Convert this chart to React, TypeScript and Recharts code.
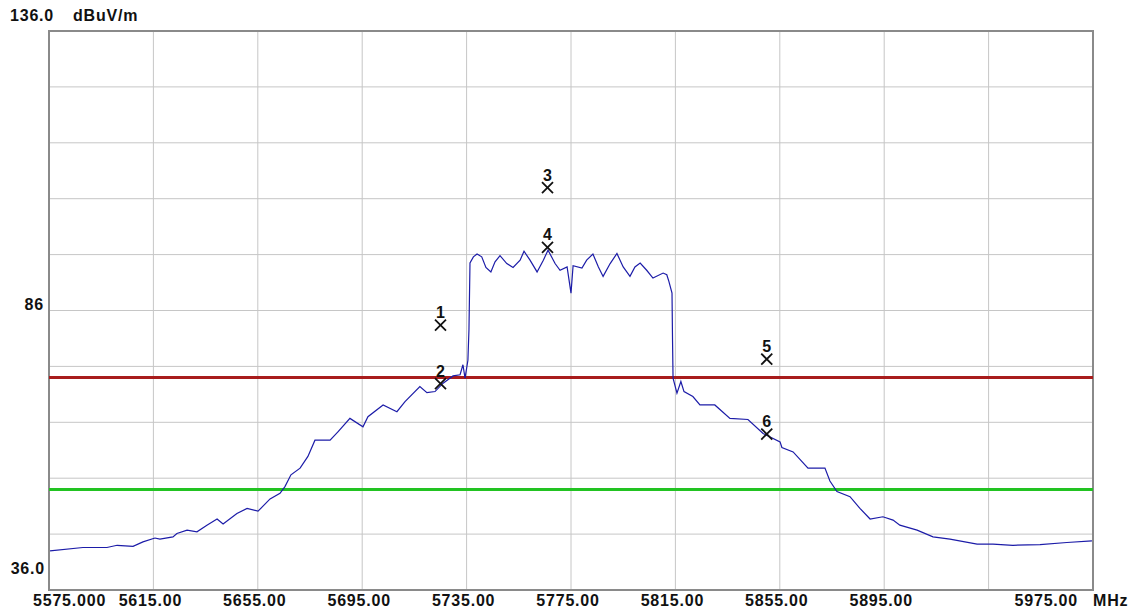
import React from "react";
import {
  ComposedChart,
  Line,
  Scatter,
  XAxis,
  YAxis,
  CartesianGrid,
  ReferenceLine,
  ReferenceArea,
} from "recharts";

// spectrum trace, MHz / dBuV/m
const traceFreq = [
  5575.4, 5588.0, 5597.2, 5601.1, 5607.2, 5611.0, 5615.6, 5617.5, 5622.5, 5624.0,
  5627.9, 5631.7, 5635.5, 5639.4, 5641.7, 5647.0, 5650.9, 5655.1, 5659.7, 5663.5,
  5665.4, 5667.7, 5671.2, 5674.2, 5676.9, 5682.7, 5685.7, 5690.3, 5695.3, 5697.2,
  5703.0, 5708.3, 5711.4, 5717.1, 5719.8, 5722.9, 5726.0, 5729.8, 5732.5, 5733.6,
  5734.4, 5735.5, 5735.9, 5736.3, 5737.6, 5739.0, 5740.8, 5742.4, 5744.3, 5745.9,
  5747.8, 5750.4, 5752.8, 5755.5, 5757.0, 5759.3, 5762.0, 5764.4, 5766.2, 5768.9,
  5770.8, 5773.5, 5775.0, 5775.8, 5779.2, 5781.0, 5783.4, 5785.5, 5787.3, 5790.0,
  5792.6, 5795.0, 5797.6, 5799.5, 5801.5, 5804.0, 5806.4, 5810.3, 5811.7, 5812.5,
  5813.7, 5813.9, 5814.1, 5815.6, 5817.1, 5818.3, 5821.7, 5824.4, 5830.1, 5835.9,
  5842.8, 5848.6, 5855.1, 5855.8, 5860.1, 5865.8, 5872.3, 5874.2, 5876.9, 5881.9,
  5885.7, 5889.6, 5894.5, 5898.4, 5901.0, 5907.6, 5913.7, 5920.2, 5930.6, 5936.7,
  5944.3, 5954.7, 5965.0, 5974.6,
];
const traceLevel = [
  43.0, 43.6, 43.6, 44.0, 43.8, 44.6, 45.3, 45.1, 45.5, 46.1,
  46.7, 46.4, 47.6, 48.7, 47.8, 49.7, 50.6, 50.1, 52.3, 53.3,
  54.5, 56.6, 57.8, 59.9, 62.8, 62.8, 64.3, 66.7, 65.2, 67.0,
  69.1, 67.9, 69.7, 72.4, 71.3, 71.5, 73.0, 74.3, 74.5, 76.3,
  73.9, 77.1, 82.5, 94.5, 95.6, 96.1, 95.6, 93.7, 92.9, 94.7,
  95.8, 94.4, 93.7, 95.0, 96.6, 95.0, 92.9, 95.0, 96.8, 94.4,
  93.2, 93.8, 89.1, 94.0, 93.6, 95.0, 96.1, 93.8, 92.1, 94.4,
  96.2, 93.8, 92.1, 93.8, 94.5, 93.2, 91.8, 92.7, 92.4, 91.2,
  89.1, 80.7, 73.9, 71.2, 73.3, 71.5, 70.6, 69.1, 69.1, 66.7,
  66.5, 64.0, 62.5, 61.5, 60.7, 57.8, 57.8, 55.5, 53.6, 52.7,
  50.6, 48.7, 49.1, 48.5, 47.6, 46.7, 45.5, 45.1, 44.2, 44.2,
  44.0, 44.1, 44.5, 44.8,
];

// markers
const markerNo = ["1", "2", "3", "4", "5", "6"];
const markerFreq = [5725, 5725, 5766, 5766, 5850, 5850];
const markerLevel = [83.4, 72.9, 108.0, 97.3, 77.3, 63.9];

// limit lines
const peakLimit = 74;
const avgLimit = 54;

const xTicks = [5575, 5615, 5655, 5695, 5735, 5775, 5815, 5855, 5895, 5935, 5975];
const xLabels = ["5575.000", "5615.00", "5655.00", "5695.00", "5735.00", "5775.00", "5815.00", "5855.00", "5895.00", "", "5975.00"];
const yTicks = [36, 46, 56, 66, 76, 86, 96, 106, 116, 126, 136];
const yLabels: Record<number, string> = { 36: "36.0", 86: "86", 136: "136.0" };

const traceData = traceFreq.map((f, i) => ({ f, v: traceLevel[i] }));
const markerData = markerFreq.map((f, i) => ({ f, v: markerLevel[i], label: markerNo[i] }));

const font = {
  fontFamily: "'Liberation Sans', Arial, sans-serif",
  fontWeight: 700,
  fontSize: 16,
  letterSpacing: 0.8,
  fill: "#111",
};

const XTick = (props: any) => {
  const { x, y, payload, index } = props;
  const label = xLabels[index] ?? "";
  if (!label) return null;
  if (index === 0) {
    return (
      <text x={x - 16} y={y + 16} textAnchor="start" {...font}>
        {label}
      </text>
    );
  }
  if (payload.value === 5975) {
    return (
      <g>
        <text x={x - 15} y={y + 16} textAnchor="end" {...font}>
          {label}
        </text>
        <text x={x} y={y + 16} textAnchor="start" {...font}>
          MHz
        </text>
      </g>
    );
  }
  return (
    <text x={x - 3} y={y + 16} textAnchor="middle" {...font}>
      {label}
    </text>
  );
};

const YTick = (props: any) => {
  const { x, y, payload } = props;
  const label = yLabels[payload.value];
  if (!label) return null;
  if (payload.value === 136) {
    return (
      <g>
        <text x={x - 39} y={y - 10} textAnchor="start" {...font}>
          {label}
        </text>
        <text x={x + 24} y={y - 10} textAnchor="start" {...font}>
          dBuV/m
        </text>
      </g>
    );
  }
  if (payload.value === 86) {
    return (
      <text x={x - 5} y={y - 1} textAnchor="end" {...font}>
        {label}
      </text>
    );
  }
  return (
    <text x={x - 4} y={y - 16} textAnchor="end" {...font}>
      {label}
    </text>
  );
};

const MarkerShape = (props: any) => {
  const { cx, cy, payload } = props;
  const s = 5.5;
  return (
    <g>
      <line x1={cx - s} y1={cy - s} x2={cx + s} y2={cy + s} stroke="#111" strokeWidth={1.8} />
      <line x1={cx - s} y1={cy + s} x2={cx + s} y2={cy - s} stroke="#111" strokeWidth={1.8} />
      <text x={cx} y={cy - 7} textAnchor="middle" {...font} fontSize={16} letterSpacing={0}>
        {payload.label}
      </text>
    </g>
  );
};

export default function App() {
  return (
    <div style={{ position: "absolute", left: 0, top: 0, width: 1136, height: 613, background: "#fff" }}>
      <ComposedChart width={1136} height={613} margin={{ top: 31, right: 43, left: 0, bottom: 0 }}>
        <CartesianGrid stroke="#c6c6c6" strokeWidth={1} />
        <XAxis
          type="number"
          dataKey="f"
          domain={[5575, 5975]}
          ticks={xTicks}
          allowDataOverflow
          height={23}
          tickSize={0}
          tickMargin={0}
          tickLine={false}
          axisLine={false}
          tick={<XTick />}
          interval={0}
        />
        <YAxis
          type="number"
          dataKey="v"
          domain={[36, 136]}
          ticks={yTicks}
          allowDataOverflow
          width={49}
          tickSize={0}
          tickMargin={0}
          tickLine={false}
          axisLine={false}
          tick={<YTick />}
          interval={0}
        />
        <ReferenceLine y={peakLimit} stroke="#a81c1c" strokeWidth={3} />
        <ReferenceLine y={avgLimit} stroke="#22c322" strokeWidth={3} />
        <Line
          data={traceData}
          dataKey="v"
          type="linear"
          stroke="#1c1ca8"
          strokeWidth={1.2}
          dot={false}
          isAnimationActive={false}
        />
        <Scatter data={markerData} dataKey="v" shape={<MarkerShape />} isAnimationActive={false} />
        <ReferenceArea x1={5575} x2={5975} y1={36} y2={136} fill="none" stroke="#8a8a8a" strokeWidth={2} />
      </ComposedChart>
    </div>
  );
}
